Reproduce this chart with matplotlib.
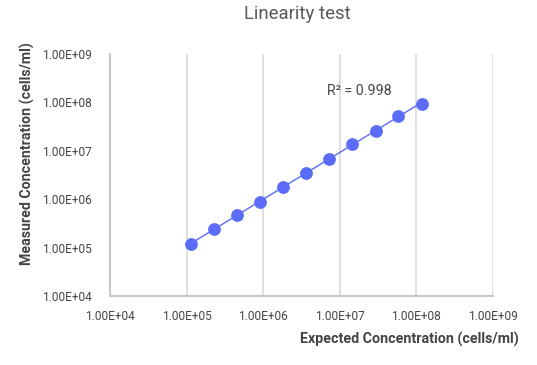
import matplotlib
matplotlib.use('Agg')
import matplotlib.pyplot as plt
import numpy as np

plt.rcParams['font.family'] = ['Roboto', 'DejaVu Sans']

# values (cells/ml)
expected = [1.14e5, 2.28e5, 4.55e5, 9.2e5, 1.81e6, 3.66e6, 7.23e6, 1.44e7, 2.93e7, 5.78e7, 1.17e8]
measured = [1.21e5, 2.39e5, 4.65e5, 8.87e5, 1.79e6, 3.53e6, 6.87e6, 1.38e7, 2.60e7, 5.16e7, 9.40e7]
decades = [1e4, 1e5, 1e6, 1e7, 1e8, 1e9]
r2_label = 'R² = 0.998'

blue = '#5b6cf8'
txt = '#444444'

fig = plt.figure(figsize=(5.37, 3.65), dpi=100)
ax = fig.add_axes([110/537, 1 - 296/365, (493-110)/537, (296-54)/365])

# power trendline (straight line in log-log)
lx = np.log10(expected)
ly = np.log10(measured)
k, b = np.polyfit(lx, ly, 1)
tx = np.array([lx.min(), lx.max()])
ax.plot(10**tx, 10**(k*tx + b), color=blue, lw=1, zorder=2)

ax.plot(expected, measured, 'o', color=blue, markersize=9.2, markeredgewidth=0, zorder=3)

ax.set_xscale('log')
ax.set_yscale('log')
ax.set_xlim(decades[0], decades[-1])
ax.set_ylim(decades[0], decades[-1])
ax.set_xticks(decades)
ax.set_yticks(decades)
ax.set_xticklabels(['%.2E' % d for d in decades])
ax.set_yticklabels(['%.2E' % d for d in decades])
ax.minorticks_off()
ax.tick_params(length=0, labelsize=8.6, labelcolor=txt, pad=10)
ax.tick_params(axis='y', pad=13)

ax.grid(axis='x', color='#d9d9d9', lw=1.2)
ax.set_axisbelow(True)
for s in ['top', 'right']:
    ax.spines[s].set_visible(False)
for s in ['left', 'bottom']:
    ax.spines[s].set_color('#c6c6c6')
    ax.spines[s].set_linewidth(1.5)

fig.text(297/537, 1 - 14/365, 'Linearity test', ha='center', va='center', fontsize=13.4, color='#595959')
fig.text(392/537, 1 - 91/365, r2_label, ha='right', va='center', fontsize=10.3, color=txt)
fig.text(519/537, 1 - 339/365, 'Expected Concentration (cells/ml)', ha='right', va='center',
         fontsize=10.3, fontweight='bold', color=txt)
fig.text(27/537, 1 - 154/365, 'Measured Concentration (cells/ml)', ha='center', va='center',
         rotation=90, fontsize=10.2, fontweight='bold', color=txt)

fig.savefig('out.png', dpi=100)
